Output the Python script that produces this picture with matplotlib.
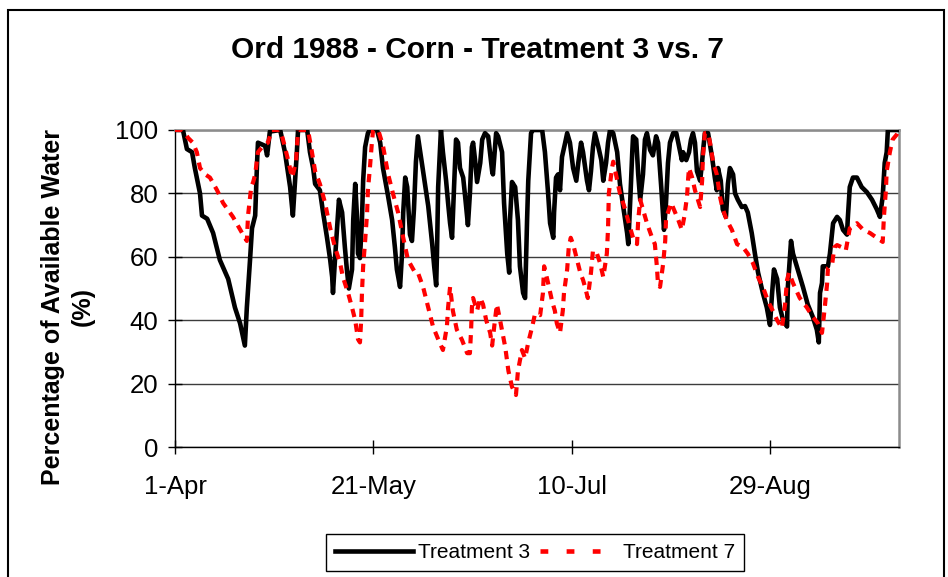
"""Ord 1988 corn: available soil water, treatment 3 vs 7."""

import matplotlib
matplotlib.use("Agg")
import matplotlib.pyplot as plt
from matplotlib.lines import Line2D
from matplotlib.patches import Rectangle

# days after 1-Apr-1988 and percentage of available water
t3_days = [0.0, 2.0, 3.0, 4.3, 5.0, 6.3, 6.8, 8.1, 9.6, 11.3, 13.4, 15.1, 16.4, 17.6, 18.1, 18.9,
           19.4, 20.2, 20.7, 20.9, 22.7, 23.2, 23.9, 26.5, 27.7, 29.0, 29.7, 30.7, 31.0, 33.3, 34.0,
           34.8, 35.3, 36.5, 37.3, 38.3, 39.1, 39.6, 39.8, 40.3, 40.8, 41.3, 42.1, 42.8, 43.3, 43.8,
           44.6, 44.9, 45.4, 45.9, 46.1, 46.6, 47.1, 47.4, 47.9, 48.6, 49.1, 50.9, 51.7, 52.4, 53.7,
           54.7, 55.4, 55.9, 56.7, 57.2, 57.5, 58.0, 58.5, 59.2, 59.7, 60.2, 60.7, 61.2, 62.5, 63.8,
           64.8, 65.3, 65.8, 66.0, 66.3, 67.0, 67.5, 68.3, 68.8, 69.3, 69.8, 70.3, 70.8, 71.3, 71.8,
           72.6, 73.1, 73.6, 73.8, 74.3, 74.8, 75.1, 75.6, 76.1, 76.9, 77.4, 78.1, 78.9, 79.9, 80.1,
           80.9, 81.4, 82.4, 82.9, 83.7, 84.2, 84.4, 84.9, 85.7, 86.4, 86.9, 87.7, 88.2, 88.7, 89.0,
           89.7, 90.2, 92.5, 93.2, 94.0, 94.5, 95.3, 95.5, 96.0, 96.5, 97.0, 97.5, 98.3, 98.8, 99.5,
           100.3, 101.1, 101.6, 102.3, 102.8, 103.8, 104.3, 104.8, 105.3, 105.8, 106.6, 107.4, 107.9,
           108.6, 109.1, 109.6, 110.4, 111.4, 112.1, 112.9, 113.9, 114.2, 114.7, 115.2, 115.4, 116.2,
           116.7, 117.2, 117.9, 118.4, 118.9, 119.7, 120.4, 121.2, 121.7, 122.5, 123.0, 123.2, 123.7,
           124.2, 124.7, 125.5, 126.3, 126.8, 127.7, 128.0, 128.8, 129.5, 130.0, 130.5, 131.0, 131.5,
           132.3, 132.8, 133.0, 133.5, 134.3, 135.3, 136.0, 136.5, 136.8, 137.5, 138.0, 138.8, 139.3,
           139.8, 140.6, 141.1, 141.8, 142.8, 143.6, 144.3, 145.3, 146.1, 146.9, 148.1, 149.1, 149.9,
           150.4, 150.9, 151.7, 152.4, 153.2, 154.2, 154.4, 155.2, 155.7, 156.9, 158.2, 159.4, 160.7,
           161.7, 162.2, 162.5, 163.0, 163.2, 164.5, 165.0, 165.8, 166.8, 167.5, 168.3, 169.3, 169.5,
           170.0, 170.8, 171.8, 173.0, 174.3, 175.6, 176.8, 177.6, 178.3, 178.8, 179.3, 179.6, 182.4]
t3_water = [100, 100, 94, 93, 88, 80, 73, 72, 67.5, 59, 53, 44, 39, 32, 44, 59,
            69, 73, 90.5, 96, 95, 92, 99.5, 100, 93, 82, 73, 93, 100, 100, 93,
            88, 83, 81, 74, 66, 59, 53.6, 48.6, 59, 68.5, 78, 74, 63, 56, 50,
            56, 71.6, 83, 71.6, 61, 59.6, 71.6, 84, 94.6, 99, 100, 100, 96, 88, 79,
            71.6, 63, 56, 50.5, 61, 74, 85, 82, 67, 65, 75, 90, 98, 87, 76,
            64, 57, 51, 61, 82, 100, 93, 84, 77, 70.6, 66, 82, 97, 96, 88,
            85, 79, 72.6, 70, 80, 94.6, 96, 90.5, 83.6, 89.6, 97, 99, 98, 87, 86,
            99, 98, 93, 77, 61, 55, 71.6, 83.6, 82, 71.6, 57, 48.6, 47, 71.6, 84,
            99, 100, 100, 93, 80, 70.6, 66, 74, 85, 86, 81, 91.5, 96, 99, 96,
            88, 84, 89.6, 96, 93, 84, 81, 87, 94.6, 99, 95, 90.5, 84,
            89.6, 96, 100, 99, 93, 83, 76, 67.5, 64, 78, 93, 98, 97,
            86, 78, 86, 97, 99, 93.7, 92, 98, 96, 82, 72.6, 68.5, 77,
            89.6, 96, 99, 99, 96, 90.5, 93, 90.5, 93, 97, 99, 96, 87,
            84, 90, 93, 99, 99, 91.5, 85, 81, 88, 84, 75, 72.6, 83,
            88, 86, 80, 78, 75.7, 76, 74, 67.5, 61, 55, 48.6, 44, 38.5,
            48, 56, 53, 44, 40, 38, 50.5, 65, 61, 56, 50.5, 45, 41,
            37, 33, 48.6, 51.7, 57, 57, 61, 70.6, 72.6, 71.6, 68.5, 67, 72,
            82, 85, 85, 82, 80.4, 78, 75, 72.6, 79, 89.6, 93, 100, 100]

t7_days = [0.0, 2.0, 3.3, 4.5, 5.5, 6.3, 7.6, 8.8, 10.6, 12.1, 14.6, 16.9, 18.1, 18.4, 19.2, 19.7,
           20.2, 20.9, 22.2, 23.4, 24.4, 26.5, 27.2, 28.5, 29.5, 30.5, 31.0, 33.5, 34.5, 35.3, 36.5,
           37.8, 39.1, 40.3, 41.6, 42.3, 43.6, 44.6, 45.4, 46.1, 46.6, 46.9, 47.1, 47.4, 47.9, 48.4,
           48.6, 49.1, 49.6, 49.9, 51.2, 52.4, 53.7, 54.9, 56.2, 57.5, 58.7, 60.5, 61.2, 62.5, 63.8,
           65.0, 66.3, 67.5, 68.5, 68.8, 69.3, 70.0, 71.0, 72.3, 73.6, 74.3, 74.6, 74.8, 75.1, 76.1,
           76.9, 77.6, 78.4, 79.4, 79.9, 80.6, 81.1, 81.9, 83.2, 84.0, 84.9, 85.9, 86.4, 87.4, 88.2,
           89.0, 90.0, 90.7, 92.0, 92.7, 93.0, 94.0, 95.0, 95.7, 96.2, 97.0, 97.7, 98.0, 98.8, 99.2,
           99.7, 100.3, 101.3, 102.1, 102.8, 103.3, 104.0, 104.8, 105.3, 106.3, 107.1, 107.9, 108.8,
           109.1, 109.3, 110.1, 110.4, 111.1, 112.1, 113.4, 114.7, 115.4, 116.4, 116.7, 117.2, 117.9,
           118.9, 120.2, 120.9, 121.4, 121.7, 122.2, 123.0, 123.5, 123.7, 124.2, 125.0, 126.0, 126.8,
           127.7, 128.3, 129.0, 129.3, 129.5, 130.3, 131.0, 131.5, 132.3, 132.8, 133.0, 133.5, 134.3,
           134.8, 135.6, 136.5, 137.3, 138.0, 139.0, 140.3, 141.6, 143.1, 144.3, 145.6, 146.9, 148.1,
           149.4, 150.6, 151.7, 152.9, 153.7, 154.2, 154.7, 155.7, 157.4, 159.2, 160.7, 162.0, 163.0,
           163.7, 164.3, 164.5, 165.6, 166.1, 166.8, 168.0, 169.0, 170.0, 171.8, 173.4, 175.1, 176.8,
           178.3, 178.6, 179.1, 179.3, 180.1, 180.8, 181.8, 182.4]
t7_water = [100, 100, 97.5, 96, 93, 88, 86, 85, 81, 77, 72.6, 67.5, 65, 73, 82, 83.6,
            86, 93, 95, 96, 100, 100, 97, 90.5, 85, 90, 100, 100, 93, 87, 83,
            77, 69, 63, 58, 53.6, 48.6, 44, 40, 34, 33, 40, 48.6, 57, 65, 74,
            81, 88, 96, 100, 100, 95, 86, 80, 74, 66, 59, 55, 55, 50.5, 44,
            38, 34, 30.6, 38, 44, 50.5, 43, 37, 33.8, 29.6, 29.6, 37, 44, 47, 43,
            47, 45, 40, 36, 32, 40, 45, 40, 31.5, 24, 19, 16.4, 24, 30.6, 28,
            33, 38, 42, 41.6, 48.6, 57, 51.7, 46, 43, 39, 36, 43, 48.6, 56, 63,
            66, 64, 59, 55, 52.7, 50.5, 47, 55, 62, 61, 58, 53.6, 61,
            69, 80, 88, 90, 86, 80, 75, 69, 66, 64, 71.6, 78, 75,
            70.6, 66, 64, 57, 51, 50.5, 58, 65, 71.6, 74, 77, 74, 71.6,
            68.5, 72.6, 79, 85, 88, 85, 81, 79, 75.7, 84, 91.5, 99, 99,
            96, 89.6, 86, 79, 75, 71.6, 68.5, 64, 63, 61, 58, 53.6, 50.5,
            46, 43, 40, 37.5, 45, 52.7, 55, 51.7, 47, 44, 41, 39, 36,
            44, 51.7, 56.5, 58, 63, 63.7, 63, 62, 69, 70.6, 68.5, 67.5, 66,
            64.7, 72.6, 81, 87, 93, 97, 98.5, 100]

tick_days = [0, 50, 100, 150]
tick_labels = ["1-Apr", "21-May", "10-Jul", "29-Aug"]

plt.rcParams["font.family"] = ["Liberation Sans", "DejaVu Sans"]

fig = plt.figure(figsize=(9.48, 5.77), dpi=100)
ax = fig.add_axes([0.1846, 0.2253, 0.7637, 0.5494])

ax.plot(t3_days, t3_water, color="black", lw=3.3, solid_joinstyle="round", zorder=3)
ax.plot(t7_days, t7_water, color="#ff0000", lw=3.0, dashes=(2.0, 1.6),
        dash_capstyle="butt", zorder=4)

ax.set_xlim(0, 182.4)
ax.set_ylim(0, 100)
ax.set_yticks(range(0, 101, 20))
ax.set_xticks(tick_days)
ax.set_xticklabels(tick_labels)
ax.tick_params(direction="inout", length=10, width=1, labelsize=18.5, pad=7)
ax.tick_params(axis="x", pad=15)
ax.yaxis.grid(True, color="#3c3c3c", lw=1)
ax.set_axisbelow(True)

for side in ("top", "right"):
    ax.spines[side].set_color("#8c8c8c")
    ax.spines[side].set_linewidth(1.8)
for side in ("left", "bottom"):
    ax.spines[side].set_color("black")
    ax.spines[side].set_linewidth(1)

fig.text(0.504, 0.913, "Ord 1988 - Corn - Treatment 3 vs. 7", ha="center", va="center",
         fontsize=21.5, fontweight="bold")
fig.text(0.072, 0.468, "Percentage of Available Water\n(%)", rotation=90, ha="center",
         va="center", multialignment="center", fontsize=18, fontweight="bold", linespacing=1.3)

# legend swatches: the legend draws the dashed line with wider gaps than the plot
handles = [Line2D([], [], color="black", lw=3.3),
           Line2D([], [], color="#ff0000", lw=3.3, dashes=(1.7, 4.0), dash_capstyle="butt")]
fig.legend(handles, ["Treatment 3", "Treatment 7"], loc="center",
           bbox_to_anchor=(0.5644, 0.0425), ncol=2, fontsize=15,
           frameon=True, fancybox=False, edgecolor="black", handlelength=3.7,
           handletextpad=0.25, columnspacing=0.5, borderpad=0.45, framealpha=1)

# outer chart border, runs off the bottom of the picture
fig.patches.append(Rectangle((8 / 948, -0.05), 936 / 948, 1.05 - 10 / 577,
                             transform=fig.transFigure, fill=False, edgecolor="black", lw=1.5))

fig.savefig("out.png", dpi=100)
